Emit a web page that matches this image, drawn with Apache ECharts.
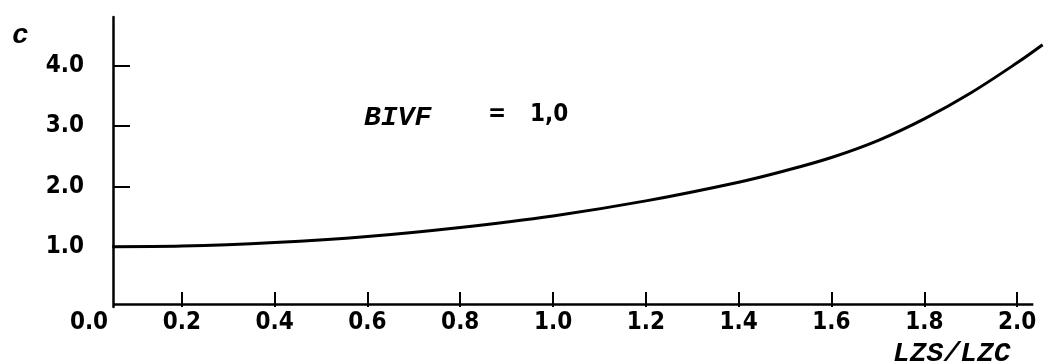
<!DOCTYPE html>
<html>
<head>
<meta charset="utf-8">
<script src="https://cdn.jsdelivr.net/npm/echarts@6/dist/echarts.min.js"></script>
<style>
  html, body { margin: 0; padding: 0; background: #fff; }
  #chart { width: 1044px; height: 362px; }
</style>
</head>
<body>
<div id="chart"></div>
<script>
// Ratio LZS/LZC along the horizontal axis
const lzsRatio = [0.05, 0.2, 0.4, 0.6, 0.8, 1.0, 1.2, 1.4, 1.5, 1.6, 1.7, 1.8, 1.9, 2.0, 2.055];
// Coefficient c for BIVF = 1,0
const cValues  = [1.00, 1.01, 1.07, 1.17, 1.32, 1.51, 1.76, 2.07, 2.26, 2.48, 2.76, 3.12, 3.55, 4.05, 4.35];

// Tick labels
const xLabelValues = [0.0, 0.2, 0.4, 0.6, 0.8, 1.0, 1.2, 1.4, 1.6, 1.8, 2.0];
const xTickValues  = [0.2, 0.4, 0.6, 0.8, 1.0, 1.2, 1.4, 1.6, 1.8, 2.0];
const yLabelValues = [1, 2, 3, 4];

// Where the two axes meet, and where the horizontal axis stops
const axisOrigin = [0.052, 0.05];
const xAxisEnd = 2.035;

const labelFont = {
  fontFamily: '"DejaVu Sans Condensed"',
  fontWeight: 'bold',
  fontSize: 24,
  color: '#000'
};
const italicFont = 'italic bold 28px "Liberation Mono"';

const chart = echarts.init(document.getElementById('chart'), null, { renderer: 'canvas' });

chart.setOption({
  animation: false,
  backgroundColor: '#fff',
  grid: { left: 89, right: 0, top: 17, bottom: 55, containLabel: false },
  xAxis: {
    type: 'value',
    min: 0,
    max: 2.058,
    axisLine: { show: false },
    splitLine: { show: false },
    axisTick: {
      show: true,
      inside: true,
      length: 15,
      customValues: xTickValues,
      lineStyle: { color: '#000', width: 2 }
    },
    axisLabel: {
      show: true,
      margin: 4,
      customValues: xLabelValues,
      formatter: v => v.toFixed(1),
      ...labelFont
    }
  },
  yAxis: {
    type: 'value',
    min: 0,
    max: 4.81,
    offset: -24,
    axisLine: { show: true, lineStyle: { color: '#000', width: 2.5 } },
    splitLine: { show: false },
    axisTick: {
      show: true,
      inside: true,
      length: 17,
      customValues: yLabelValues,
      lineStyle: { color: '#000', width: 2 }
    },
    axisLabel: {
      show: true,
      margin: 29,
      customValues: yLabelValues,
      formatter: v => v.toFixed(1),
      ...labelFont
    }
  },
  series: [{
    type: 'line',
    data: lzsRatio.map((x, i) => [x, cValues[i]]),
    smooth: 0.35,
    showSymbol: false,
    clip: false,
    lineStyle: { color: '#000', width: 3 },
    markLine: {
      silent: true,
      symbol: 'none',
      label: { show: false },
      lineStyle: { color: '#000', width: 2.5, type: 'solid' },
      data: [
        [{ coord: [axisOrigin[0], axisOrigin[1]] }, { coord: [xAxisEnd, axisOrigin[1]] }]
      ]
    }
  }],
  graphic: [
    { type: 'text', left: 12, top: 22, style: { text: 'c', font: italicFont, fill: '#000' } },
    { type: 'text', left: 364, top: 104, style: { text: 'BIVF', font: italicFont, fill: '#000' } },
    { type: 'text', left: 488, top: 103, style: { text: '=', font: 'bold 24px "DejaVu Sans Condensed"', fill: '#000' } },
    { type: 'text', left: 530, top: 103, style: { text: '1,0', font: 'bold 24px "DejaVu Sans Condensed"', fill: '#000' } },
    { type: 'text', left: 893, top: 340, style: { text: 'LZS/LZC', font: italicFont, fill: '#000' } }
  ]
});
</script>
</body>
</html>
